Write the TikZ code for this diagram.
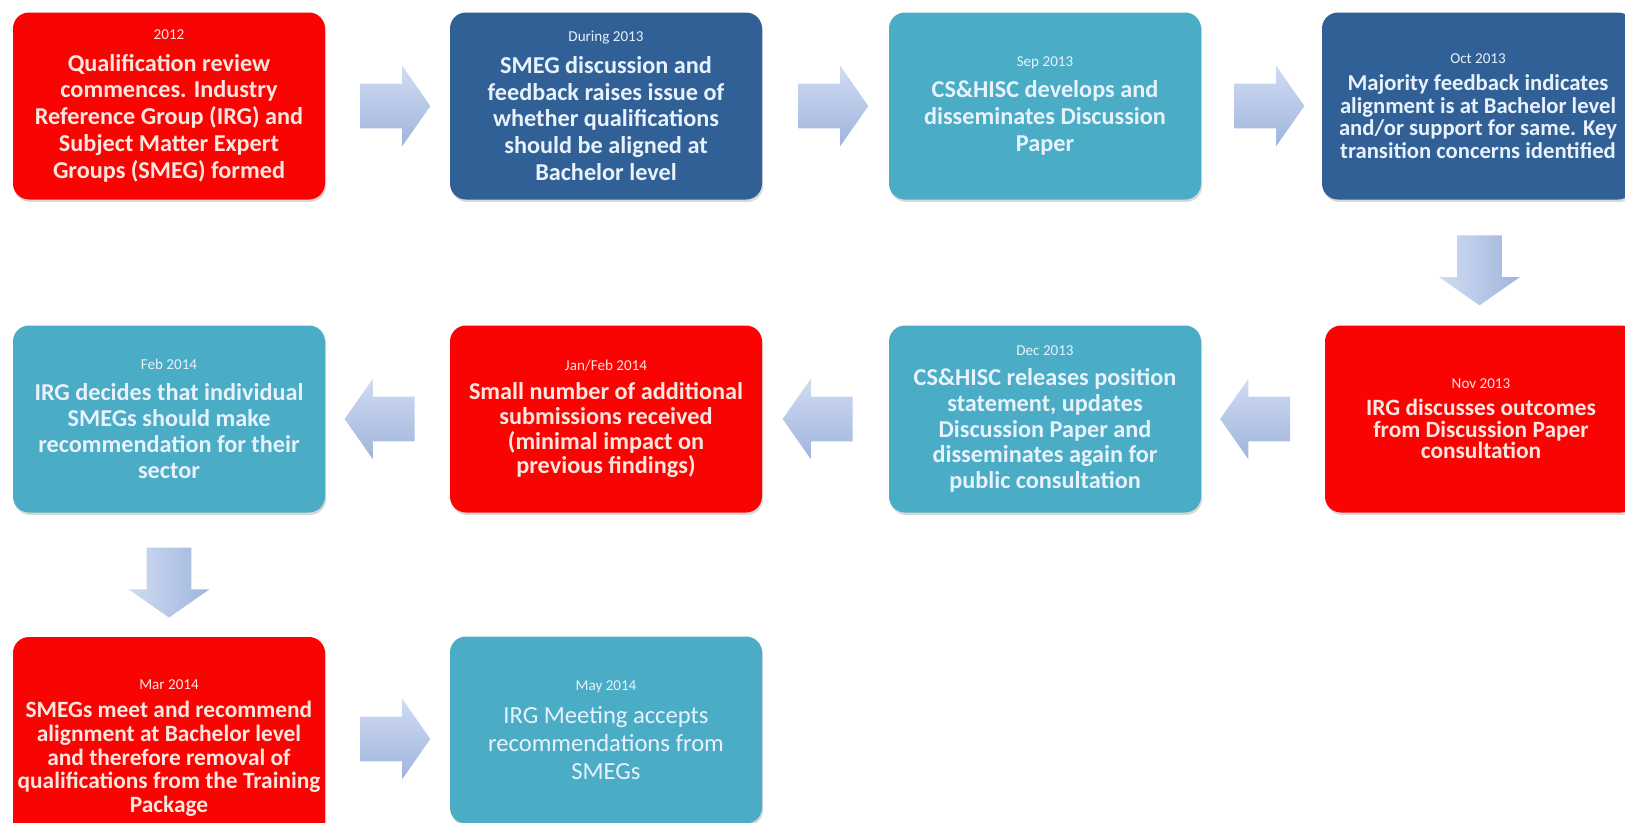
\documentclass[tikz,border=0pt]{standalone}
\usepackage{fontspec}
\setmainfont{Carlito}
\usepackage{tikz}
\usetikzlibrary{calc,shapes.arrows,shadows}

\definecolor{stagered}{RGB}{250,3,3}
\definecolor{stagenavy}{RGB}{49,96,150}
\definecolor{stageteal}{RGB}{75,172,198}
\definecolor{redtext}{RGB}{252,230,224}
\definecolor{bluetext}{RGB}{232,242,252}
\definecolor{arrowtop}{RGB}{208,220,243}
\definecolor{arrowbot}{RGB}{160,180,220}

\tikzset{
    stagebox/.style={rectangle, rounded corners=0.32cm, minimum width=6.24cm, minimum height=3.74cm,
        inner sep=2pt, align=center, text=bluetext, font=\fontsize{13.8}{15.3}\selectfont\bfseries,
        drop shadow={opacity=0.3, shadow xshift=0.6pt, shadow yshift=-1.4pt}},
    redbox/.style={stagebox, fill=stagered, text=redtext},
    navybox/.style={stagebox, fill=stagenavy},
    tealbox/.style={stagebox, fill=stageteal},
    flowarrow/.style={single arrow, single arrow head extend=0.36cm, single arrow tip angle=110,
        minimum height=1.4cm, inner xsep=0pt, inner ysep=0.44cm, draw=none},
    flowright/.style={flowarrow, top color=arrowtop, bottom color=arrowbot},
    flowleft/.style={flowarrow, shape border rotate=180, top color=arrowtop, bottom color=arrowbot},
    flowdown/.style={flowarrow, rotate=-90, left color=arrowtop, right color=arrowbot}
}
\newcommand{\when}[1]{{\mdseries\fontsize{8.6}{9}\selectfont #1}\\[2.7pt]}

\begin{document}
\begin{tikzpicture}
    \useasboundingbox (0,0) rectangle (32.5,-16.44);
    \fill[white] (0,0) rectangle (32.5,-16.44);
    \clip (0,0) rectangle (32.5,-16.44);
    % first row
    \node[redbox] (q12) at (3.38,-2.12) {\when{2012}Qualification review\\commences. Industry\\Reference Group (IRG) and\\Subject Matter Expert\\Groups (SMEG) formed};
    \node[navybox] (d13) at (12.12,-2.12) {\when{During 2013}SMEG discussion and\\feedback raises issue of\\whether qualifications\\should be aligned at\\Bachelor level};
    \node[tealbox] (sep13) at (20.9,-2.12) {\when{Sep 2013}CS\&HISC develops and\\disseminates Discussion\\Paper};
    \node[navybox, font=\fontsize{12.9}{12.8}\selectfont\bfseries] (oct13) at (29.56,-2.12) {\when{Oct 2013}Majority feedback indicates\\alignment is at Bachelor level\\and/or support for same. Key\\transition concerns identified};
    % second row
    \node[redbox, font=\fontsize{13.3}{12.4}\selectfont\bfseries] (nov13) at (29.62,-8.38) {\when{Nov 2013}IRG discusses outcomes\\from Discussion Paper\\consultation};
    \node[tealbox, font=\fontsize{13.8}{14.6}\selectfont\bfseries] (dec13) at (20.9,-8.38) {\when{Dec 2013}CS\&HISC releases position\\statement, updates\\Discussion Paper and\\disseminates again for\\public consultation};
    \node[redbox, font=\fontsize{13.8}{14}\selectfont\bfseries] (jan14) at (12.12,-8.38) {\when{Jan/Feb 2014}Small number of additional\\submissions received\\(minimal impact on\\previous findings)};
    \node[tealbox, font=\fontsize{13.8}{14.8}\selectfont\bfseries] (feb14) at (3.38,-8.38) {\when{Feb 2014}IRG decides that individual\\SMEGs should make\\recommendation for their\\sector};
    % third row
    \node[redbox, minimum height=4.44cm, font=\fontsize{13.3}{13.4}\selectfont\bfseries] (mar14) at (3.38,-14.96) {\when{Mar 2014}SMEGs meet and recommend\\alignment at Bachelor level\\and therefore removal of\\qualifications from the Training\\Package};
    \node[tealbox, font=\fontsize{14}{16}\selectfont] (may14) at (12.12,-14.6) {\when{May 2014}IRG Meeting accepts\\recommendations from\\SMEGs};
    % block arrows
    \node[flowright] (a1) at ($(q12.east)!0.5!(d13.west)$) {};
    \node[flowright] (a2) at ($(d13.east)!0.5!(sep13.west)$) {};
    \node[flowright] (a3) at ($(sep13.east)!0.5!(oct13.west)$) {};
    \node[flowdown] (a4) at ($(oct13.south)!0.5!(nov13.north)$) {};
    \node[flowleft] (a5) at ($(nov13.west)!0.5!(dec13.east)$) {};
    \node[flowleft] (a6) at ($(dec13.west)!0.5!(jan14.east)$) {};
    \node[flowleft] (a7) at ($(jan14.west)!0.5!(feb14.east)$) {};
    \node[flowdown] (a8) at ($(feb14.south)!0.5!(mar14.north)$) {};
    \node[flowright] (a9) at ($(mar14.east)!0.5!(may14.west)$) {};
\end{tikzpicture}
\end{document}
